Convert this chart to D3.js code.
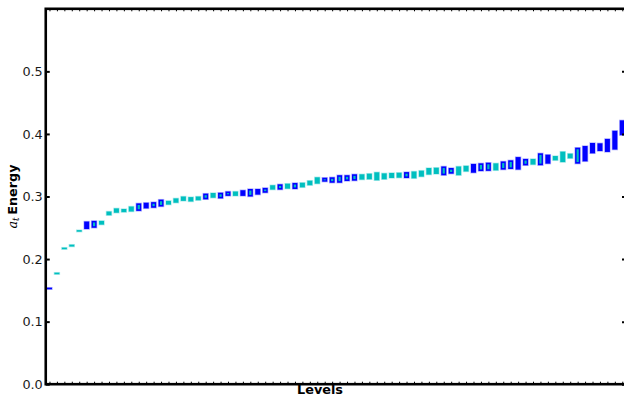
<!DOCTYPE html>
<html><head><meta charset="utf-8">
<script src="https://cdn.jsdelivr.net/npm/d3@7/dist/d3.min.js"></script>
<style>body{margin:0;background:#fff;}svg{display:block;}text{font-family:"DejaVu Sans",sans-serif;}</style>
</head><body>
<svg id="chart" width="624" height="397"></svg>
<script>
const levels = d3.range(78);
const lowValues = [0.152,0.176,0.216,0.220,0.244,0.248,0.250,0.255,0.270,0.274,0.275,0.276,0.277,0.281,0.282,0.284,0.287,0.290,0.293,0.292,
0.294,0.2955,0.298,0.297,0.301,0.301,0.301,0.300,0.303,0.306,0.311,0.311,0.3125,0.312,0.3146,0.318,0.3205,0.3237,0.322,0.322,
0.3248,0.3253,0.327,0.3275,0.3259,0.3275,0.3296,0.330,0.3296,0.329,0.3317,0.335,0.336,0.334,0.3365,0.334,0.340,0.338,0.3407,
0.341,0.3418,0.343,0.344,0.343,0.3498,0.351,0.350,0.3525,0.3578,0.355,0.361,0.3525,0.3562,0.369,0.3727,0.3712,0.375,0.398];
const highValues = [0.154,0.178,0.218,0.223,0.246,0.260,0.261,0.261,0.276,0.281,0.280,0.284,0.289,0.290,0.291,0.295,0.293,0.297,0.300,0.299,
0.300,0.3046,0.3056,0.306,0.308,0.308,0.310,0.312,0.312,0.3137,0.318,0.3195,0.3205,0.3216,0.322,0.3253,0.3307,0.330,0.3307,0.334,
0.334,0.3355,0.3355,0.3365,0.3387,0.337,0.3376,0.338,0.339,0.340,0.3413,0.3455,0.346,0.348,0.3455,0.348,0.349,0.352,0.353,
0.354,0.353,0.356,0.3578,0.363,0.360,0.360,0.369,0.3668,0.3647,0.3717,0.3685,0.378,0.3807,0.3855,0.385,0.392,0.405,0.4217];
const boxTypes = ["b","c","c","c","c","b","bc","c","c","c","c","c","bc","b","bc","bc","c","c","c","c",
"c","bc","c","bc","bc","c","b","bc","b","bc","c","bc","c","bc","c","c","c","bc","bc","bc",
"bc","bc","c","c","c","c","c","c","bc","c","c","c","c","bc","bc","c","c","b","bc",
"bc","c","bc","bc","b","bc","c","bc","b","c","c","c","bc","b","b","b","b","b","b"];
const yTicks = [0.0,0.1,0.2,0.3,0.4,0.5];

const svg = d3.select("#chart");
const L = 45.75, R = 626, T = 8.8, B = 384.2;
const x = d3.scaleLinear().domain([-0.5, 77.5]).range([L, R]);
const y = d3.scaleLinear().domain([0, 0.6]).range([B, T]);
const BLUE = "#0000ff", CYAN = "#00bfbf";
const bw = 5;

const g = svg.append("g");
levels.forEach(i => {
  const cx = x(i);
  let y1 = y(highValues[i]), y2 = y(lowValues[i]);
  if (y2 - y1 < 1.6) { const m = (y1 + y2) / 2; y1 = m - 0.8; y2 = m + 0.8; }
  const col = boxTypes[i] === "c" ? CYAN : BLUE;
  g.append("rect").attr("x", cx - bw/2 - 0.7).attr("y", y1 - 0.7).attr("width", bw + 1.4).attr("height", y2 - y1 + 1.4)
    .attr("fill", col).attr("opacity", 0.3);
  g.append("rect").attr("x", cx - bw/2).attr("y", y1).attr("width", bw).attr("height", y2 - y1).attr("fill", col);
  if (boxTypes[i] === "bc") {
    const iy1 = y1 + 1.6, iy2 = Math.max(y2 - 1.6, iy1 + 1);
    g.append("rect").attr("x", cx - 1.1).attr("y", iy1).attr("width", 2.2).attr("height", iy2 - iy1).attr("fill", CYAN);
  }
});

// y axis left
const yl = svg.append("g").attr("transform", `translate(${L},0)`)
  .call(d3.axisLeft(y).tickValues(yTicks).tickFormat(d3.format(".1f")).tickSizeInner(-4).tickSizeOuter(0).tickPadding(3));
yl.select(".domain").remove();
yl.selectAll(".tick line").attr("stroke", "#000").attr("stroke-width", 2);
yl.selectAll(".tick text").attr("font-size", 12.8).attr("fill", "#1a1a1a").attr("font-family", "DejaVu Sans");
// y axis right
const yr = svg.append("g").attr("transform", `translate(${R},0)`)
  .call(d3.axisRight(y).tickValues(yTicks).tickFormat("").tickSizeInner(-4).tickSizeOuter(0));
yr.select(".domain").remove();
yr.selectAll(".tick line").attr("stroke", "#000").attr("stroke-width", 2);

// x ticks bottom and top
const xb = svg.append("g").attr("transform", `translate(0,${B})`)
  .call(d3.axisBottom(x).tickValues(levels).tickFormat("").tickSizeInner(-2.5).tickSizeOuter(0));
xb.select(".domain").remove();
xb.selectAll(".tick line").attr("stroke", "#000").attr("stroke-width", 1);
const xt = svg.append("g").attr("transform", `translate(0,${T})`)
  .call(d3.axisTop(x).tickValues(levels).tickFormat("").tickSizeInner(-2.5).tickSizeOuter(0));
xt.select(".domain").remove();
xt.selectAll(".tick line").attr("stroke", "#000").attr("stroke-width", 1);

// spines
svg.append("rect").attr("x", L).attr("y", T).attr("width", R - L).attr("height", B - T)
  .attr("fill", "none").attr("stroke", "#000").attr("stroke-width", 2.6);

// labels
svg.append("text").attr("x", 320).attr("y", 394).attr("text-anchor", "middle")
  .attr("font-size", 12.8).attr("font-weight", "bold").text("Levels");
const yt = svg.append("text").attr("transform", `translate(16.5,${(T + B) / 2}) rotate(-90)`).attr("text-anchor", "middle");
yt.append("tspan").attr("font-style", "italic").attr("font-size", 12.8).attr("font-family", "DejaVu Serif").text("a");
yt.append("tspan").attr("font-style", "italic").attr("font-size", 9).attr("dy", 2.5).attr("font-family", "DejaVu Serif").text("t");
yt.append("tspan").attr("dy", -2.5).attr("font-size", 12.8).text("\u2009");
yt.append("tspan").attr("font-size", 12.8).attr("font-weight", "bold").text("Energy");
</script>
</body></html>
